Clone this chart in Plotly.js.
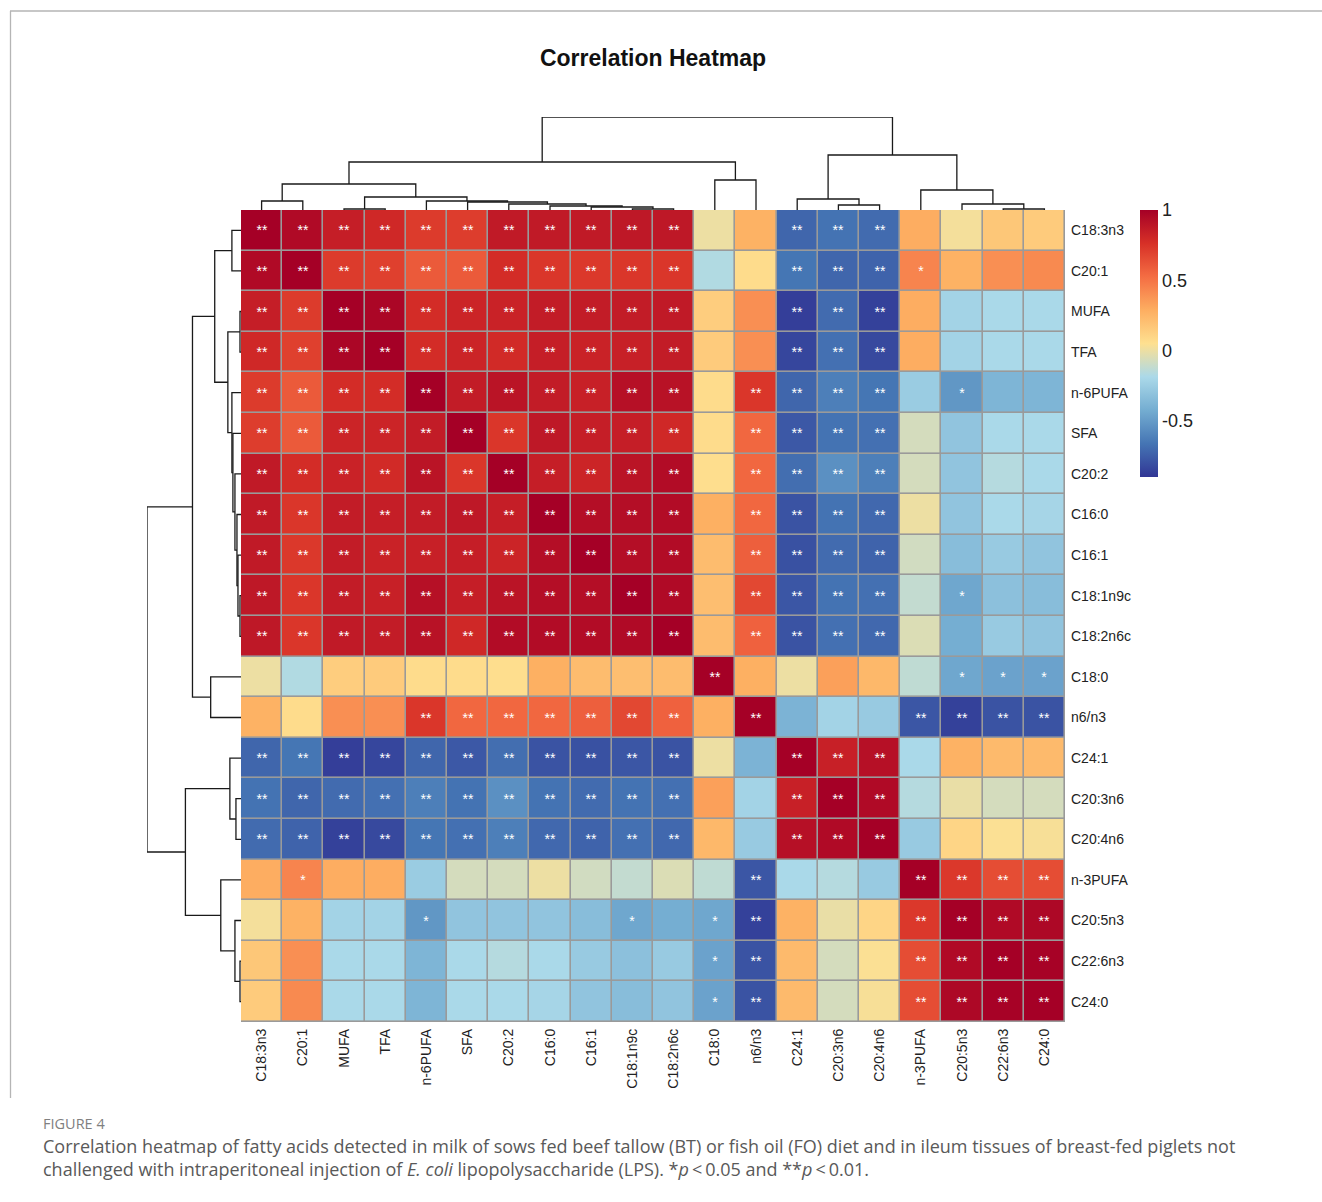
<!DOCTYPE html>
<html>
<head>
<meta charset="utf-8">
<script src="https://cdn.plot.ly/plotly-3.0.1.min.js"></script>
<style>
  html, body { margin: 0; padding: 0; background: #fff; }
  #chart { width: 1322px; height: 1202px; }
</style>
</head>
<body>
<div id="chart"></div>
<script>
// Fatty acids, in clustered order (same order for rows and columns)
const labels = ["C18:3n3", "C20:1", "MUFA", "TFA", "n-6PUFA", "SFA", "C20:2", "C16:0", "C16:1",
  "C18:1n9c", "C18:2n6c", "C18:0", "n6/n3", "C24:1", "C20:3n6", "C20:4n6", "n-3PUFA",
  "C20:5n3", "C22:6n3", "C24:0"];

// Pearson correlation coefficients, one row per fatty acid
const corr = [
  [1, 0.95, 0.85, 0.80, 0.72, 0.71, 0.87, 0.87, 0.87, 0.88, 0.88, 0.00, 0.27, -0.72, -0.67, -0.70, 0.29, 0.02, 0.17, 0.15],
  [0.95, 1, 0.72, 0.70, 0.60, 0.60, 0.78, 0.74, 0.73, 0.74, 0.74, -0.17, 0.07, -0.66, -0.72, -0.73, 0.44, 0.27, 0.40, 0.42],
  [0.85, 0.72, 1, 0.97, 0.78, 0.82, 0.83, 0.86, 0.86, 0.86, 0.87, 0.14, 0.40, -0.87, -0.70, -0.86, 0.29, -0.22, -0.19, -0.19],
  [0.80, 0.70, 0.97, 1, 0.78, 0.82, 0.79, 0.85, 0.83, 0.84, 0.86, 0.15, 0.40, -0.84, -0.68, -0.83, 0.29, -0.22, -0.19, -0.19],
  [0.72, 0.60, 0.78, 0.78, 1, 0.86, 0.90, 0.86, 0.84, 0.92, 0.91, 0.07, 0.74, -0.72, -0.62, -0.66, -0.26, -0.52, -0.38, -0.38],
  [0.71, 0.60, 0.82, 0.82, 0.86, 1, 0.74, 0.88, 0.85, 0.85, 0.80, 0.07, 0.55, -0.77, -0.67, -0.68, -0.07, -0.30, -0.19, -0.19],
  [0.87, 0.78, 0.83, 0.79, 0.90, 0.74, 1, 0.85, 0.82, 0.90, 0.94, 0.06, 0.55, -0.69, -0.55, -0.62, -0.07, -0.30, -0.16, -0.19],
  [0.87, 0.74, 0.86, 0.85, 0.86, 0.88, 0.85, 1, 0.93, 0.93, 0.94, 0.28, 0.55, -0.79, -0.67, -0.71, 0.00, -0.30, -0.19, -0.21],
  [0.87, 0.73, 0.86, 0.83, 0.84, 0.85, 0.82, 0.93, 1, 0.93, 0.94, 0.22, 0.58, -0.80, -0.70, -0.73, -0.08, -0.34, -0.27, -0.30],
  [0.88, 0.74, 0.86, 0.84, 0.92, 0.85, 0.90, 0.93, 0.93, 1, 0.95, 0.21, 0.67, -0.78, -0.67, -0.68, -0.12, -0.45, -0.32, -0.34],
  [0.88, 0.74, 0.87, 0.86, 0.91, 0.80, 0.94, 0.94, 0.94, 0.95, 1, 0.22, 0.57, -0.79, -0.68, -0.71, -0.05, -0.42, -0.27, -0.30],
  [0.00, -0.17, 0.14, 0.15, 0.07, 0.07, 0.06, 0.28, 0.22, 0.21, 0.22, 1, 0.28, 0.00, 0.34, 0.24, -0.13, -0.45, -0.47, -0.47],
  [0.27, 0.07, 0.40, 0.40, 0.74, 0.55, 0.55, 0.55, 0.58, 0.67, 0.57, 0.28, 1, -0.39, -0.22, -0.27, -0.78, -0.86, -0.79, -0.79],
  [-0.72, -0.66, -0.87, -0.84, -0.72, -0.77, -0.69, -0.79, -0.80, -0.78, -0.79, 0.00, -0.39, 1, 0.84, 0.92, -0.19, 0.27, 0.23, 0.23],
  [-0.67, -0.72, -0.70, -0.68, -0.62, -0.67, -0.55, -0.67, -0.70, -0.67, -0.68, 0.34, -0.22, 0.84, 1, 0.95, -0.16, -0.01, -0.07, -0.07],
  [-0.70, -0.73, -0.86, -0.83, -0.66, -0.68, -0.62, -0.71, -0.73, -0.68, -0.71, 0.24, -0.27, 0.92, 0.95, 1, -0.27, 0.10, 0.04, 0.03],
  [0.29, 0.44, 0.29, 0.29, -0.26, -0.07, -0.07, 0.00, -0.08, -0.12, -0.05, -0.13, -0.78, -0.19, -0.16, -0.27, 1, 0.73, 0.65, 0.65],
  [0.02, 0.27, -0.22, -0.22, -0.52, -0.30, -0.30, -0.30, -0.34, -0.45, -0.42, -0.45, -0.86, 0.27, -0.01, 0.10, 0.73, 1, 0.95, 0.96],
  [0.17, 0.40, -0.19, -0.19, -0.38, -0.19, -0.16, -0.19, -0.27, -0.32, -0.27, -0.47, -0.79, 0.23, -0.07, 0.04, 0.65, 0.95, 1, 0.99],
  [0.15, 0.42, -0.19, -0.19, -0.38, -0.19, -0.19, -0.21, -0.30, -0.34, -0.30, -0.47, -0.79, 0.23, -0.07, 0.03, 0.65, 0.96, 0.99, 1]
];

// Significance per cell: 2 = p < 0.01 (**), 1 = p < 0.05 (*), 0 = not significant
const sig = [
  "22222222222002220000",
  "22222222222002221000",
  "22222222222002220000",
  "22222222222002220000",
  "22222222222022220100",
  "22222222222022220000",
  "22222222222022220000",
  "22222222222022220000",
  "22222222222022220000",
  "22222222222022220100",
  "22222222222022220000",
  "00000000000200000111",
  "00002222222020002222",
  "22222222222002220000",
  "22222222222002220000",
  "22222222222002220000",
  "01000000000020002222",
  "00001000010120002222",
  "00000000000120002222",
  "00000000000120002222"
];

// Hierarchical clustering merges (hclust convention: negative = leaf index + 1,
// positive = earlier merge step), with merge heights
const mergeA = [-10, -3, -19, -9, -8, -15, -7, -18, -6, -5, -1, -14, 2, -17, 11, -12, 15, 12, 17];
const mergeB = [-11, -4, -20, 1, 4, -16, 5, 3, 7, 9, -2, 6, 10, 8, 13, -13, 16, 14, 18];
const mergeH = [1, 1, 1, 3, 4, 5, 6, 6, 8, 9, 9, 11, 13, 20, 26, 30, 48, 55, 93];

// Diverging palette (blue -> yellow -> red) and its value range
const palette = ["#313695", "#4575B4", "#74ADD1", "#ABD9E9", "#FEE090", "#FDAE61", "#F46D43", "#D73027", "#A50026"];
const zRange = [-0.9, 1];
const cbTicks = [-0.5, 0, 0.5, 1];

// ---- page geometry (pixels) ----
const W = 1322, H = 1202;
const gridL = 241, gridR = 1065, gridT = 210, gridB = 1022;
const treeTop = 117, treeLeft = 147;
const px = x => x / W;
const py = y => 1 - y / H;

const n = labels.length;
const idx = labels.map((_, i) => i);

// Dendrogram segments from the merge table
function dendrogram() {
  const pos = [], hts = [];
  const p = k => (k < 0 ? -k - 1 : pos[k - 1]);
  const h = k => (k < 0 ? 0 : hts[k - 1]);
  const a = [], b = [];
  for (let i = 0; i < mergeA.length; i++) {
    const pa = p(mergeA[i]), pb = p(mergeB[i]), hi = mergeH[i];
    a.push(pa, pa, pb, pb, null);
    b.push(h(mergeA[i]), hi, hi, h(mergeB[i]), null);
    pos.push((pa + pb) / 2);
    hts.push(hi);
  }
  return { pos: a, height: b };
}
const tree = dendrogram();
const maxH = Math.max(...mergeH);

const colorscale = palette.map((c, i) => [i / (palette.length - 1), c]);
const starText = sig.map(r => r.split("").map(c => (c === "2" ? "**" : c === "1" ? "*" : "")));

const heat = {
  type: "heatmap",
  x: idx, y: idx, z: corr,
  xaxis: "x", yaxis: "y",
  zmin: zRange[0], zmax: zRange[1],
  colorscale: colorscale,
  xgap: 1.6, ygap: 1.6,
  text: starText,
  texttemplate: "%{text}",
  textfont: { color: "#ffffff", size: 14, family: "Liberation Sans, Arial, sans-serif" },
  hoverinfo: "skip",
  colorbar: {
    thickness: 18,
    len: 267, lenmode: "pixels",
    x: px(1140), xanchor: "left", xref: "paper",
    y: py(gridT), yanchor: "top", yref: "paper",
    xpad: 0, ypad: 0,
    outlinewidth: 0,
    tickvals: cbTicks,
    ticktext: cbTicks.map(String),
    ticks: "",
    ticklabelstandoff: 3,
    tickfont: { size: 18, color: "#222", family: "Liberation Sans, Arial, sans-serif" }
  }
};

const lineStyle = { color: "#1a1a1a", width: 1.3 };
const topTree = {
  type: "scatter", mode: "lines",
  x: tree.pos, y: tree.height,
  xaxis: "x2", yaxis: "y2",
  line: lineStyle, hoverinfo: "skip", showlegend: false, cliponaxis: false
};
const leftTree = {
  type: "scatter", mode: "lines",
  x: tree.height, y: tree.pos,
  xaxis: "x3", yaxis: "y3",
  line: lineStyle, hoverinfo: "skip", showlegend: false, cliponaxis: false
};

const labelFont = { size: 14, color: "#222", family: "Liberation Sans, Arial, sans-serif" };
const hidden = { visible: false, showgrid: false, zeroline: false, fixedrange: true };
const captionFont = "'Open Sans', Lato, sans-serif";

const layout = {
  width: W, height: H,
  margin: { l: 0, r: 0, t: 0, b: 0 },
  paper_bgcolor: "#ffffff",
  plot_bgcolor: "rgba(0,0,0,0)",
  showlegend: false,
  title: {
    text: "<b>Correlation Heatmap</b>",
    x: px(653), xanchor: "center", xref: "paper",
    y: py(58), yanchor: "middle", yref: "paper",
    font: { size: 23, color: "#111", family: "Liberation Sans, Arial, sans-serif" }
  },
  xaxis: {
    domain: [px(gridL), px(gridR)], range: [-0.5, n - 0.5], anchor: "y",
    tickvals: idx, ticktext: labels, tickangle: -90, ticks: "", ticklabelstandoff: 3,
    showgrid: false, zeroline: false, showline: false, tickfont: labelFont, fixedrange: true
  },
  yaxis: {
    domain: [py(gridB), py(gridT)], range: [n - 0.5, -0.5], anchor: "x", side: "right",
    tickvals: idx, ticktext: labels, ticks: "", ticklabelstandoff: 5,
    showgrid: false, zeroline: false, showline: false, tickfont: labelFont, fixedrange: true
  },
  xaxis2: Object.assign({ domain: [px(gridL), px(gridR)], range: [-0.5, n - 0.5], anchor: "y2" }, hidden),
  yaxis2: Object.assign({ domain: [py(gridT), py(treeTop)], range: [0, maxH], anchor: "x2" }, hidden),
  xaxis3: Object.assign({ domain: [px(treeLeft), px(gridL)], range: [maxH, 0], anchor: "y3" }, hidden),
  yaxis3: Object.assign({ domain: [py(gridB), py(gridT)], range: [n - 0.5, -0.5], anchor: "x3" }, hidden),
  shapes: [
    // grey backing that shows through the cell gaps as grid lines
    { type: "rect", xref: "x", yref: "y", x0: -0.5, x1: n - 0.5, y0: -0.5, y1: n - 0.5,
      fillcolor: "#9a9a9a", line: { color: "#9a9a9a", width: 1.6 }, layer: "below" },
    // figure frame
    { type: "line", xref: "paper", yref: "paper", x0: px(10), x1: 1, y0: py(11), y1: py(11),
      line: { color: "#b5b5b5", width: 1.3 } },
    { type: "line", xref: "paper", yref: "paper", x0: px(10.5), x1: px(10.5), y0: py(11), y1: py(1098),
      line: { color: "#b5b5b5", width: 1.3 } }
  ],
  annotations: [
    { text: "FIGURE 4", xref: "paper", yref: "paper", x: px(41), y: py(1123),
      xanchor: "left", yanchor: "middle", showarrow: false,
      font: { size: 14.5, color: "#808080", family: captionFont } },
    { text: "Correlation heatmap of fatty acids detected in milk of sows fed beef tallow (BT) or fish oil (FO) diet and in ileum tissues of breast-fed piglets not",
      xref: "paper", yref: "paper", x: px(41), y: py(1146),
      xanchor: "left", yanchor: "middle", showarrow: false, align: "left",
      font: { size: 18, color: "#595959", family: captionFont } },
    { text: "challenged with intraperitoneal injection of <i>E. coli</i> lipopolysaccharide (LPS). *<i>p</i>\u2009&lt;\u20090.05 and **<i>p</i>\u2009&lt;\u20090.01.",
      xref: "paper", yref: "paper", x: px(41), y: py(1169),
      xanchor: "left", yanchor: "middle", showarrow: false, align: "left",
      font: { size: 18, color: "#595959", family: captionFont } }
  ]
};

Plotly.newPlot("chart", [heat, topTree, leftTree], layout, { staticPlot: true, displayModeBar: false });
</script>
</body>
</html>
